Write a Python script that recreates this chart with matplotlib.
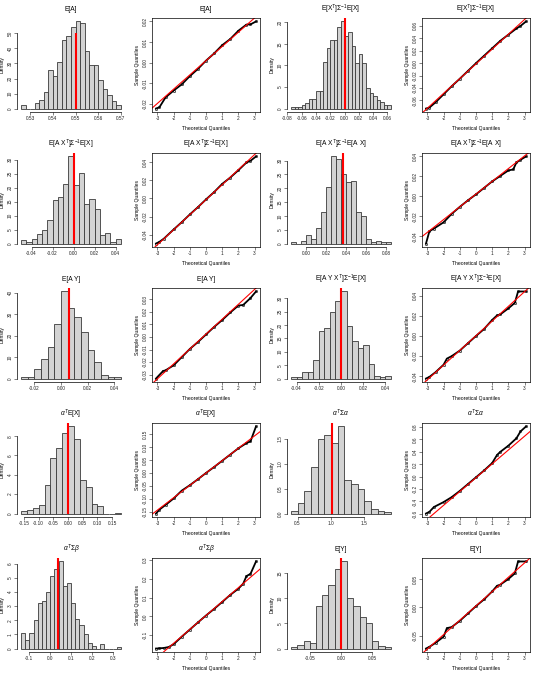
import numpy as np
import matplotlib.pyplot as plt

plt.rcParams["font.family"] = ["Liberation Sans", "DejaVu Sans"]
plt.rcParams["mathtext.fontset"] = "custom"
plt.rcParams["mathtext.rm"] = "Liberation Sans"
plt.rcParams["mathtext.it"] = "Liberation Sans:italic"
plt.rcParams["axes.unicode_minus"] = False

# =========================
# HISTOGRAMAS (densidad por clase)
# =========================
ea_start, ea_width = 0.526, 0.002
ea_dens = [2.2, 0, 0, 3.8, 6, 11, 25.5, 22, 31, 45.5, 48, 54, 58, 57, 38.5, 29, 29, 19, 13, 9, 5, 2.2]
ea_true, ea_top = 0.55, 50
ea_xt, ea_yt = [0.53, 0.54, 0.55, 0.56, 0.57], [0, 10, 20, 30, 40, 50]

xsx_start, xsx_width = -0.075, 0.005
xsx_dens = [0.4, 0.4, 0.4, 0.8, 1.2, 2.1, 2.3, 4.0, 4.0, 10.9, 14.1, 15.8, 16.0, 19.0, 20.2,
            16.9, 17.7, 14.4, 10.5, 12.7, 10.5, 4.8, 3.7, 2.9, 1.9, 1.4, 0.9, 0.8]
xsx_true, xsx_top = 0.0, None
xsx_xt, xsx_yt = [-0.08, -0.06, -0.04, -0.02, 0.0, 0.02, 0.04, 0.06], [0, 5, 10, 15, 20]

axsx_start, axsx_width = -0.05, 0.005
axsx_dens = [1.2, 0.4, 1.5, 3.3, 4.7, 8.3, 15.4, 16.8, 21.4, 31.1, 21.0, 25.3, 14.1, 16.0, 12.2, 3.0, 3.6, 0.4, 1.5]
axsx_true, axsx_top = 0.0, None
axsx_xt, axsx_yt = [-0.04, -0.02, 0.0, 0.02, 0.04], [0, 5, 10, 15, 20, 25, 30]

axsax_start, axsax_width = -0.015, 0.005
axsax_dens = [0.4, 0, 0.8, 3.0, 1.8, 5.7, 11.3, 20.6, 31.5, 30.7, 25.1, 22.4, 22.8, 11.3, 9.9, 1.5, 0.6, 0.8, 0.4, 0.4]
axsax_true, axsax_top = 0.037, None
axsax_xt, axsax_yt = [0.0, 0.02, 0.04, 0.06, 0.08], [0, 5, 10, 15, 20, 25, 30]

ay_start, ay_width = -0.03, 0.005
ay_dens = [0.5, 0.8, 4.4, 8.9, 14.5, 25.5, 40.6, 32.8, 28.9, 21.6, 13.3, 7.5, 1.6, 0.5, 0.5]
ay_true, ay_top = 0.006, None
ay_xt, ay_yt = [-0.02, 0.0, 0.02, 0.04], [0, 10, 20, 30, 40]

ayx_start, ayx_width = -0.045, 0.005
ayx_dens = [0.4, 0.4, 2.4, 2.4, 6.9, 17.8, 18.8, 25.0, 29.0, 32.5, 19.6, 14.1, 11.5, 12.5, 5.6, 0.9, 0.4, 0.9]
ayx_true, ayx_top = 0.0, None
ayx_xt, ayx_yt = [-0.04, -0.02, 0.0, 0.02, 0.04], [0, 5, 10, 15, 20, 25, 30]

aex_start, aex_width = -0.16, 0.02
aex_dens = [0.24, 0.35, 0.6, 0.85, 2.9, 5.75, 6.8, 8.3, 9.0, 7.75, 3.45, 2.7, 1.0, 0.8, 0, 0, 0.1]
aex_true, aex_top = 0.0, None
aex_xt, aex_yt = [-0.15, -0.10, -0.05, 0.0, 0.05, 0.10, 0.15], [0, 2, 4, 6, 8]

asa_start, asa_width = 0.4, 0.1
asa_dens = [0.05, 0.22, 0.45, 0.93, 1.49, 1.57, 1.42, 1.75, 0.67, 0.6, 0.5, 0.25, 0.1, 0.05, 0.03]
asa_true, asa_top = 1.02, None
asa_xt, asa_yt = [0.5, 1.0, 1.5], [0.0, 0.5, 1.0, 1.5]

asb_start, asb_width = -0.14, 0.02
asb_dens = [1.1, 0.6, 1.1, 2.0, 3.25, 3.35, 4.0, 5.1, 5.65, 6.15, 4.4, 4.6, 3.2, 2.1, 1.65, 1.05,
            0.4, 0.15, 0, 0.3, 0, 0, 0, 0.12]
asb_true, asb_top = 0.036, None
asb_xt, asb_yt = [-0.1, 0.0, 0.1, 0.2, 0.3], [0, 1, 2, 3, 4, 5, 6]

ey_start, ey_width = -0.08, 0.01
ey_dens = [0.33, 0.6, 1.47, 1.0, 8.5, 10.7, 12.7, 15.8, 17.3, 10.0, 8.5, 6.2, 5.0, 1.47, 0.47, 0.33]
ey_true, ey_top = 0.0, None
ey_xt, ey_yt = [-0.05, 0.0, 0.05], [0, 5, 10, 15]

# =========================
# QQ PLOTS (cuantiles teoricos vs muestrales, recta qqline)
# =========================
qx_std = [-3.09, -2.88, -2.5, -2.0, -1.5, -1.0, -0.5, 0, 0.5, 1.0, 1.5, 2.0, 2.5, 2.75, 3.09]

ea_qy = [-0.0222, -0.0216, -0.0168, -0.0135, -0.0105, -0.0065, -0.003, 0.001, 0.0045, 0.0085,
         0.0115, 0.0155, 0.0185, 0.0186, 0.0200]
ea_line = (0.001, 0.0069)
ea_qyt = [-0.02, -0.01, 0.0, 0.01, 0.02]

xsx_qy = [-0.073, -0.0715, -0.063, -0.050, -0.037, -0.025, -0.0125, 0.0, 0.012, 0.024, 0.036,
          0.046, 0.056, 0.060, 0.0672]
xsx_line = (-0.001, 0.0238)
xsx_qyt = [-0.06, -0.04, -0.02, 0.0, 0.02, 0.04, 0.06]

axsx_qx = [-3.09, -2.88, -2.6, -2.0, -1.5, -1.0, -0.5, 0, 0.5, 1.0, 1.5, 2.0, 2.5, 2.75, 3.09]
axsx_qy = [-0.0494, -0.0476, -0.044, -0.034, -0.026, -0.0175, -0.0095, -0.001, 0.007, 0.016,
           0.023, 0.031, 0.0395, 0.0414, 0.0461]
axsx_line = (-0.0013, 0.01648)
axsx_qyt = [-0.04, -0.02, 0.0, 0.02, 0.04]

axsax_qx = [-3.09, -2.88, -2.6, -2.0, -1.5, -1.0, -0.5, 0, 0.5, 1.0, 1.5, 2.0, 2.3, 2.5, 2.75, 3.09]
axsax_qy = [-0.0473, -0.035, -0.0323, -0.026, -0.0175, -0.0105, -0.004, 0.002, 0.0085, 0.015,
            0.0205, 0.026, 0.027, 0.034, 0.0367, 0.040]
axsax_line = (0.0023, 0.01277)
axsax_qyt = [-0.04, -0.02, 0.0, 0.02, 0.04]

ay_qx = [-3.09, -2.65, -2.5, -2.0, -1.5, -1.0, -0.5, 0, 0.5, 1.0, 1.5, 2.0, 2.3, 2.75, 3.09]
ay_qy = [-0.033, -0.027, -0.0265, -0.0225, -0.016, -0.0095, -0.004, 0.002, 0.008, 0.0135,
         0.0195, 0.025, 0.0255, 0.031, 0.0362]
ay_line = (0.0023, 0.01184)
ay_qyt = [-0.03, -0.02, -0.01, 0.0, 0.01, 0.02, 0.03]

ayx_qx = [-3.09, -2.88, -2.5, -2.0, -1.8, -1.5, -1.0, -0.5, 0, 0.5, 1.0, 1.3, 1.5, 2.0, 2.4, 2.6, 3.09]
ayx_qy = [-0.0423, -0.0407, -0.036, -0.0285, -0.0225, -0.020, -0.0145, -0.0072, 0.0, 0.007,
          0.016, 0.0205, 0.0215, 0.0275, 0.033, 0.0443, 0.0443]
ayx_line = (0.0003, 0.0146)
ayx_qyt = [-0.04, -0.02, 0.0, 0.02, 0.04]

aex_qy = [-0.156, -0.141, -0.123, -0.098, -0.068, -0.047, -0.024, 0.0, 0.023, 0.047, 0.071,
          0.095, 0.115, 0.122, 0.179]
aex_line = (0.0, 0.0476)
aex_qyt = [-0.15, -0.10, -0.05, 0.0, 0.05, 0.10, 0.15]

asa_qx = [-3.09, -2.88, -2.6, -2.0, -1.5, -1.0, -0.5, 0, 0.5, 1.0, 1.3, 1.5, 2.0, 2.5, 2.75, 3.09]
asa_qy = [-0.595, -0.568, -0.49, -0.41, -0.33, -0.23, -0.12, -0.01, 0.10, 0.22, 0.35, 0.40,
          0.50, 0.62, 0.73, 0.81]
asa_line = (-0.016, 0.223)
asa_qyt = [-0.6, -0.4, -0.2, 0.0, 0.2, 0.4, 0.6, 0.8]

asb_qx = [-3.09, -2.88, -2.6, -2.3, -2.0, -1.5, -1.0, -0.5, 0, 0.5, 1.0, 1.5, 2.0, 2.3, 2.5, 2.75, 3.09]
asb_qy = [-0.171, -0.170, -0.168, -0.163, -0.148, -0.108, -0.070, -0.032, 0.005, 0.040, 0.077,
          0.115, 0.148, 0.175, 0.215, 0.227, 0.293]
asb_line = (0.005, 0.0741)
asb_qyt = [-0.1, 0.0, 0.1, 0.2, 0.3]

ey_qx = [-3.09, -2.88, -2.5, -2.0, -1.8, -1.5, -1.0, -0.5, 0, 0.5, 1.0, 1.3, 1.5, 2.0, 2.4, 2.6, 3.09]
ey_qy = [-0.073, -0.070, -0.063, -0.052, -0.037, -0.035, -0.024, -0.011, 0.002, 0.014, 0.028,
         0.038, 0.040, 0.050, 0.060, 0.081, 0.081]
ey_line = (0.0024, 0.02535)
ey_qyt = [-0.05, 0.0, 0.05]

qq_xt = [-3, -2, -1, 0, 1, 2, 3]

# =========================
# TITULOS
# =========================
titulos = ["E[A]", r"E[X$^T$]$\Sigma^{-1}$E[X]",
           r"E[A X$^T$]$\Sigma^{-1}$E[X]", r"E[A X$^T$]$\Sigma^{-1}$E[A X]",
           "E[A Y]", r"E[A Y X$^T$]$\Sigma^{-1}$E[X]",
           r"$\alpha^T$E[X]", r"$\alpha^T\Sigma\alpha$",
           r"$\alpha^T\Sigma\beta$", "E[Y]"]

hists = [
    (ea_start, ea_width, ea_dens, ea_true, ea_top, ea_xt, ea_yt, 2, 0),
    (xsx_start, xsx_width, xsx_dens, xsx_true, xsx_top, xsx_xt, xsx_yt, 2, 0),
    (axsx_start, axsx_width, axsx_dens, axsx_true, axsx_top, axsx_xt, axsx_yt, 2, 0),
    (axsax_start, axsax_width, axsax_dens, axsax_true, axsax_top, axsax_xt, axsax_yt, 2, 0),
    (ay_start, ay_width, ay_dens, ay_true, ay_top, ay_xt, ay_yt, 2, 0),
    (ayx_start, ayx_width, ayx_dens, ayx_true, ayx_top, ayx_xt, ayx_yt, 2, 0),
    (aex_start, aex_width, aex_dens, aex_true, aex_top, aex_xt, aex_yt, 2, 0),
    (asa_start, asa_width, asa_dens, asa_true, asa_top, asa_xt, asa_yt, 1, 1),
    (asb_start, asb_width, asb_dens, asb_true, asb_top, asb_xt, asb_yt, 1, 0),
    (ey_start, ey_width, ey_dens, ey_true, ey_top, ey_xt, ey_yt, 2, 0),
]
qqs = [
    (qx_std, ea_qy, ea_line, ea_qyt, 2),
    (qx_std, xsx_qy, xsx_line, xsx_qyt, 2),
    (axsx_qx, axsx_qy, axsx_line, axsx_qyt, 2),
    (axsax_qx, axsax_qy, axsax_line, axsax_qyt, 2),
    (ay_qx, ay_qy, ay_line, ay_qyt, 2),
    (ayx_qx, ayx_qy, ayx_line, ayx_qyt, 2),
    (qx_std, aex_qy, aex_line, aex_qyt, 2),
    (asa_qx, asa_qy, asa_line, asa_qyt, 1),
    (asb_qx, asb_qy, asb_line, asb_qyt, 1),
    (ey_qx, ey_qy, ey_line, ey_qyt, 2),
]

TICK = 3.4
fig = plt.figure(figsize=(5.4, 6.75), dpi=100)


def nueva_ax(fila, col):
    return fig.add_axes([(135 * col + 17) / 540, 1 - (135 * fila + 112) / 675, 108 / 540, 94 / 675])


def estilo(ax, xt, yt, dx, dy):
    ax.set_xticks(xt)
    ax.set_xticklabels([f"{t:.{dx}f}" for t in xt])
    ax.set_yticks(yt)
    ax.set_yticklabels([f"{t:.{dy}f}" for t in yt], rotation=90, va="center")
    ax.tick_params(direction="out", length=2, width=0.4, pad=1.2, labelsize=TICK, colors="#222222")


for i in range(10):
    fila, col = i // 2, (i % 2) * 2
    # ---- histograma ----
    start, width, dens, true, top, xt, yt, dx, dy = hists[i]
    dens = np.array(dens)
    edges = start + width * np.arange(len(dens) + 1)
    ax = nueva_ax(fila, col)
    ax.bar(edges[:-1], dens, width=width, align="edge", color="#d3d3d3",
           edgecolor="#3a3a3a", linewidth=0.6)
    span = edges[-1] - edges[0]
    ax.set_xlim(edges[0] - 0.04 * span, edges[-1] + 0.04 * span)
    ax.set_ylim(-0.04 * dens.max(), 1.04 * dens.max())
    ax.vlines(true, 0, top if top is not None else 1.04 * dens.max(), color="red", lw=1.5)
    estilo(ax, xt, yt, dx, dy)
    for s in ["top", "right"]:
        ax.spines[s].set_visible(False)
    ax.spines["bottom"].set_bounds(xt[0], xt[-1])
    ax.spines["left"].set_bounds(yt[0], yt[-1])
    for s in ["bottom", "left"]:
        ax.spines[s].set_linewidth(0.5)
    ax.set_title(titulos[i], fontsize=4.8, pad=5)
    ax.set_ylabel("Density", fontsize=3.6)
    ax.yaxis.set_label_coords(-0.115, 0.5)

    # ---- QQ plot ----
    qx, qy, (b, m), qyt, qd = qqs[i]
    ax = nueva_ax(fila, col + 1)
    ax.plot(qx, qy, color="black", lw=1.3)
    ax.plot(qx, qy, "o", ms=1.6, mfc="none", mec="black", mew=0.45)
    ax.margins(0.04)
    ax.axline((0, b), slope=m, color="red", lw=0.8)
    estilo(ax, qq_xt, qyt, 0, qd)
    for s in ax.spines.values():
        s.set_linewidth(0.5)
    ax.set_title(titulos[i], fontsize=4.8, pad=5)
    ax.set_xlabel("Theoretical Quantiles", fontsize=3.6, labelpad=3)
    ax.set_ylabel("Sample Quantiles", fontsize=3.6)
    ax.yaxis.set_label_coords(-0.115, 0.5)

fig.savefig("out.png", dpi=100)
